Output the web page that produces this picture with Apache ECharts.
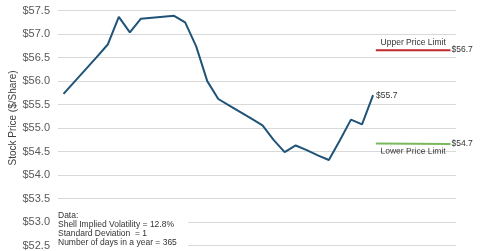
<!DOCTYPE html>
<html><head><meta charset="utf-8">
<script src="https://cdn.jsdelivr.net/npm/echarts@6/dist/echarts.min.js"></script>
<style>html,body{margin:0;padding:0;background:#fff}#c{width:480px;height:251px}</style>
</head><body><div id="c"></div>
<script>
// Day index along the (hidden) x axis
const days = [0,1,2,3,4,5,6,7,8,9,10,11,12,13,14,15,16,17,18,19,20,21,22,23,24,25,26,27,28];
const prices = [55.73,55.99,56.25,56.51,56.78,57.37,57.04,57.33,57.35,57.37,57.39,57.25,56.74,56.0,55.62,55.48,55.34,55.2,55.06,54.75,54.49,54.63,54.53,54.42,54.32,54.74,55.18,55.08,55.7];
const limitDays = [28.25, 35];
const upperLimit = [56.66, 56.66];
const lowerLimit = [54.67, 54.66];
const yTicks = {min: 52.5, max: 57.5, interval: 0.5};
const noteLines = ['Data:', 'Shell Implied Volatility = 12.8%', 'Standard Deviation  = 1', 'Number of days in a year = 365'];

const font = 'Liberation Sans, Arial, sans-serif';
const chart = echarts.init(document.getElementById('c'), null, {renderer: 'canvas'});
const fmt = v => '$' + v.toFixed(1);

function limitSeries(name, vals, color, labelPos) {
  return {
    type: 'line', name: name, symbol: 'none', silent: true,
    data: limitDays.map((d, i) => [d, vals[i]]),
    lineStyle: {color: color, width: 2},
    endLabel: {show: true, formatter: p => fmt(p.value[1]), distance: 1,
      fontSize: 8.5, fontFamily: font, color: '#333'},
    markLine: {
      symbol: 'none', silent: true,
      lineStyle: {color: 'rgba(0,0,0,0)', width: 0},
      label: {show: true, position: labelPos, formatter: name, fontSize: 8.5,
        fontFamily: font, color: '#333', distance: 3},
      data: [[{coord: [limitDays[0], vals[0]]}, {coord: [limitDays[1], vals[1]]}]]
    }
  };
}

chart.setOption({
  animation: false,
  grid: {left: 58, right: 24, top: 10.7, bottom: 2.3},
  xAxis: {type: 'value', min: -0.5, max: 35.5, show: false},
  yAxis: {
    type: 'value', min: yTicks.min, max: yTicks.max, interval: yTicks.interval,
    axisLine: {show: false}, axisTick: {show: false},
    axisLabel: {formatter: fmt, fontSize: 11, fontFamily: font, color: '#595959', margin: 8},
    splitLine: {lineStyle: {color: '#d9d9d9', width: 1}}
  },
  graphic: [
    {type: 'text', x: 13, y: 118, rotation: Math.PI / 2,
      style: {text: 'Stock Price ($/Share)', fontSize: 10, fontFamily: font, fill: '#404040',
        align: 'center', verticalAlign: 'middle'}},
    {type: 'rect', shape: {x: 56, y: 210, width: 132, height: 36}, style: {fill: '#fff'}, z: 5},
    {type: 'text', x: 58, y: 211, z: 6,
      style: {text: noteLines.join('\n'), fontSize: 8.5, lineHeight: 9, fontFamily: font, fill: '#333'}}
  ],
  series: [
    {
      type: 'line', name: 'Price', symbol: 'none',
      data: days.map((d, i) => [d, prices[i]]),
      lineStyle: {color: '#1f5478', width: 2},
      endLabel: {show: true, formatter: p => fmt(p.value[1]), distance: 3,
        fontSize: 8.5, fontFamily: font, color: '#333'}
    },
    limitSeries('Upper Price Limit', upperLimit, '#c0282e', 'insideMiddleTop'),
    limitSeries('Lower Price Limit', lowerLimit, '#7ab85e', 'insideMiddleBottom')
  ]
});
</script></body></html>
